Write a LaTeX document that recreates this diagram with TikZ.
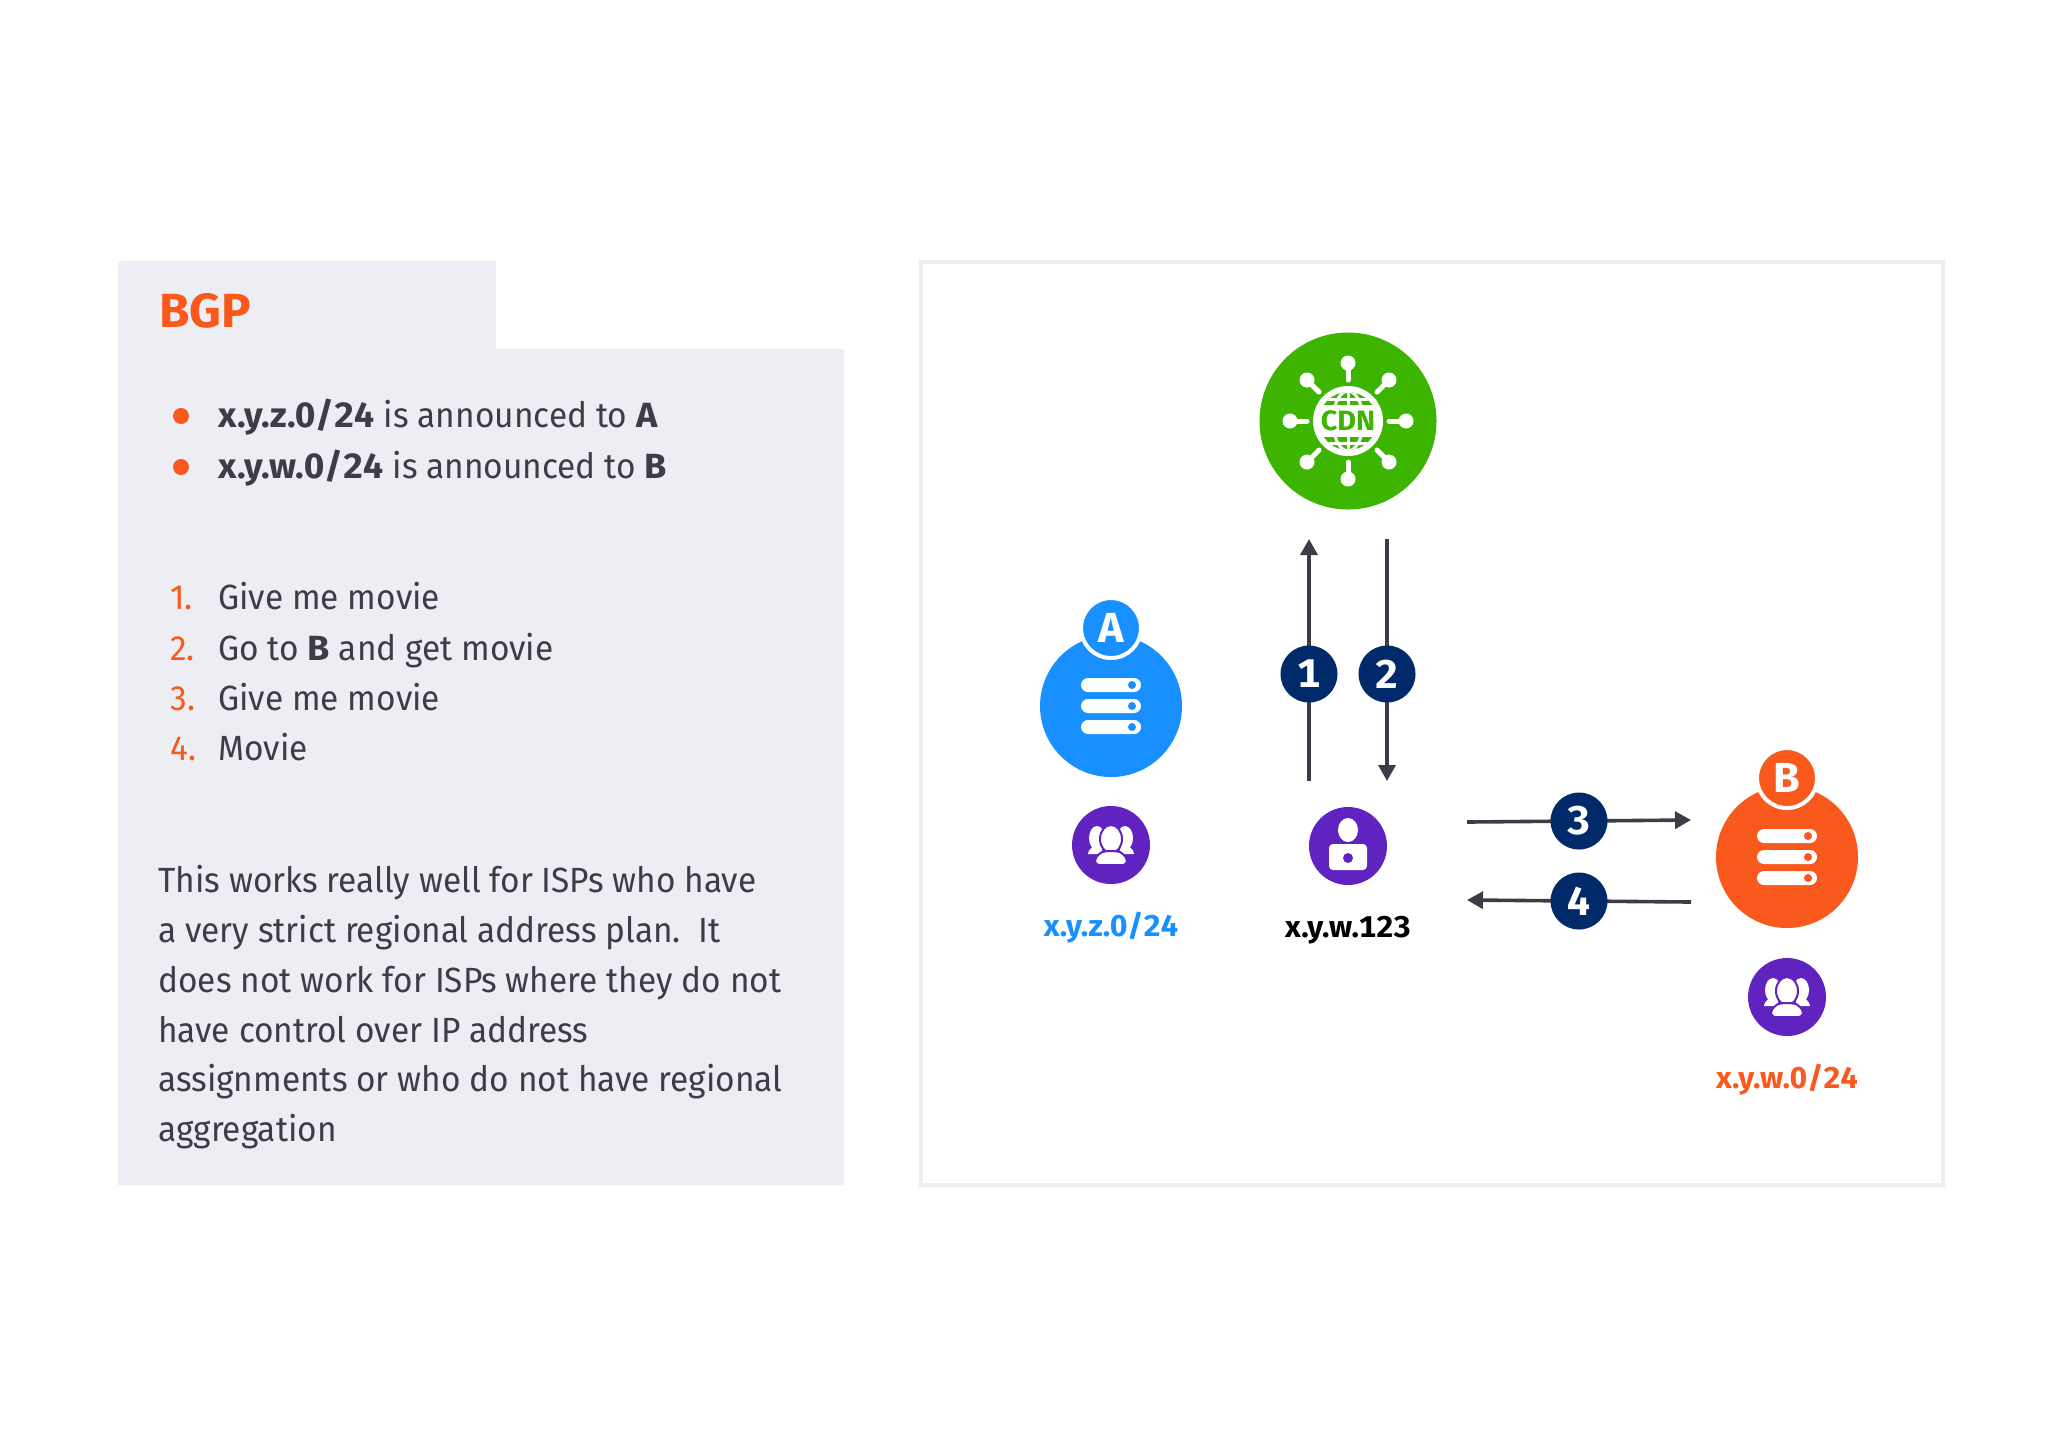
\documentclass[tikz,border=0pt]{standalone}
\usepackage{fontspec}
\setmainfont{Fira Sans}[FakeStretch=0.955,BoldFeatures={FakeStretch=1.03,Numbers=Monospaced}]
\usetikzlibrary{arrows.meta,positioning}
\definecolor{panelgray}{HTML}{EDEEF3}
\definecolor{framegray}{HTML}{EEEEF0}
\definecolor{inkgray}{HTML}{3C3D47}
\definecolor{hotorange}{HTML}{FA591D}
\definecolor{skyblue}{HTML}{1890FF}
\definecolor{cdngreen}{HTML}{3DB500}
\definecolor{navyblue}{HTML}{012A6B}
\definecolor{iconpurple}{HTML}{6023C0}
\newcommand{\pxfont}[1]{\fontsize{#1}{#1}\selectfont}
\newcommand{\rackicon}[2]{%
  \begin{scope}[shift={(#1)}]
    \fill[white,rounded corners=3.5pt] (-30,-28) rectangle (30,-14);
    \fill[white,rounded corners=3.5pt] (-30,-7) rectangle (30,7);
    \fill[white,rounded corners=3.5pt] (-30,14) rectangle (30,28);
    \fill[#2] (21,-21) circle[radius=4];
    \fill[#2] (21,0) circle[radius=4];
    \fill[#2] (21,21) circle[radius=4];
  \end{scope}}
\newcommand{\crowdicon}[1]{%
  \begin{scope}[shift={(#1)}]
    \fill[white] (-14,-7) ellipse[x radius=8, y radius=12];
    \fill[white] (-23,9) .. controls (-22,2) and (-16,0) .. (-10,0) -- (-8,9) -- cycle;
    \fill[white] (14,-7) ellipse[x radius=8, y radius=12];
    \fill[white] (23,9) .. controls (22,2) and (16,0) .. (10,0) -- (8,9) -- cycle;
    \filldraw[white,draw=iconpurple,line width=1pt] (0,-6) ellipse[x radius=11, y radius=14];
    \filldraw[white,draw=iconpurple,line width=1pt,rounded corners=2pt]
      (-16,20) .. controls (-16,11) and (-9,7) .. (-5,6) -- (5,6) .. controls (9,7) and (16,11) .. (16,20) -- cycle;
  \end{scope}}
\newcommand{\desktopicon}[1]{%
  \begin{scope}[shift={(#1)}]
    \fill[white] (0,-16) ellipse[x radius=10, y radius=12];
    \fill[white,rounded corners=2pt] (-19,-2) rectangle (19,24);
    \fill[iconpurple] (0,12) circle[radius=5];
  \end{scope}}
\newcommand{\spoke}[1]{%
  \draw[white,line width=2.5pt,line cap=round] (#1:41) -- (#1:56);
  \fill[white] (#1:58) circle[radius=7.5];}
\begin{document}
\begin{tikzpicture}[
  x=.5pt, y=-.5pt,
  node distance=18.5pt and 10pt,
  hub/.style={circle, fill=#1, minimum size=71pt, inner sep=0pt},
  tagdot/.style={circle, fill=#1, draw=white, line width=2pt, minimum size=30pt, inner sep=0pt,
                 text=white, font=\bfseries\pxfont{21}},
  seqdot/.style={circle, fill=navyblue, minimum size=28.5pt, inner sep=0pt,
                 text=white, font=\bfseries\pxfont{20}},
  hostdot/.style={circle, fill=iconpurple, minimum size=39pt, inner sep=0pt},
  addr/.style={font=\bfseries\pxfont{15}, inner sep=0pt, text height=.72em, text depth=.2em},
  body/.style={anchor=base west, inner sep=0pt, text=inkgray, font=\pxfont{17.5}},
  numeral/.style={anchor=base west, inner sep=0pt, text=hotorange, font=\pxfont{17.5}},
  arr/.style={-{Triangle[length=8pt,width=8.5pt]}, line width=1.8pt, draw=inkgray}
]
\useasboundingbox (0,0) rectangle (2048,1448);
% left panel and right frame
\fill[panelgray] (118,261) -- (496,261) -- (496,349) -- (844,349) -- (844,1185) -- (118,1185) -- cycle;
\draw[framegray,line width=2pt] (921,262) rectangle (1943,1185);
\node[anchor=base west, inner sep=0pt, text=hotorange, font=\bfseries\pxfont{24}] (title) at (159,327) {BGP};
\node[circle, fill=hotorange, minimum size=8pt, inner sep=0pt] (bulleta) at (181,416) {};
\node[circle, fill=hotorange, minimum size=8pt, inner sep=0pt] (bulletb) at (181,467) {};
\node[body] (annca) at (218,427) {\textbf{x.y.z.0/24} is announced to \textbf{A}};
\node[body] (anncb) at (218,478) {\textbf{x.y.w.0/24} is announced to \textbf{B}};
\node[numeral] (numa) at (170,609) {1.};
\node[numeral] (numb) at (170,660) {2.};
\node[numeral] (numc) at (170,710) {3.};
\node[numeral] (numd) at (170,760) {4.};
\node[body] (stepa) at (218,609) {Give me movie};
\node[body] (stepb) at (218,660) {Go to \textbf{B} and get movie};
\node[body] (stepc) at (218,710) {Give me movie};
\node[body] (stepd) at (218,760) {Movie};
\node[body, anchor=north west, align=left, font=\fontsize{17.5}{24.9}\selectfont] (remark) at (158,865)
  {This works really well for ISPs who have\\
   a very strict regional address plan.\ \ It\\
   does not work for ISPs where they do not\\
   have control over IP address\\
   assignments or who do not have regional\\
   aggregation};
% cdn
\node[hub=cdngreen, minimum size=88.5pt] (cdn) at (1348,421) {};
\begin{scope}[shift={(cdn)}]
  \spoke{0} \spoke{45} \spoke{90} \spoke{135} \spoke{180} \spoke{225} \spoke{270} \spoke{315}
  \fill[white] (0,0) circle[radius=35];
  \begin{scope}
    \clip (0,0) circle[radius=29];
    \fill[cdngreen] (-30,-30) rectangle (30,-16);
    \fill[cdngreen] (-30,16) rectangle (30,30);
    \draw[white,line width=1.5pt] (0,-30) -- (0,30);
    \draw[white,line width=1.5pt] (0,0) ellipse[x radius=15, y radius=30];
    \draw[white,line width=1.5pt] (-30,-22) -- (30,-22);
    \draw[white,line width=1.5pt] (-30,22) -- (30,22);
  \end{scope}
\end{scope}
\node[inner sep=0pt, text=cdngreen, font=\bfseries\pxfont{14}] (cdnname) at (cdn) {CDN};
% caches
\node[hub=skyblue] (cachea) at (1111,706) {};
\rackicon{cachea}{skyblue}
\node[tagdot=skyblue] (taga) at (1111,628) {A};
\node[hub=hotorange] (cacheb) at (1787,857) {};
\rackicon{cacheb}{hotorange}
\node[tagdot=hotorange] (tagb) at (1787,778) {B};
% hosts
\node[hostdot] (usersa) at (1111,845) {};
\crowdicon{usersa}
\node[hostdot] (client) at (1348,846) {};
\desktopicon{client}
\node[hostdot] (usersb) at (1787,997) {};
\crowdicon{usersb}
\node[addr, text=skyblue, below=of usersa] (addra) {x.y.z.0/24};
\node[addr, text=black, below=of client] (addrc) {x.y.w.123};
\node[addr, text=hotorange, below=of usersb] (addrb) {x.y.w.0/24};
% messages
\coordinate (reqstart) at (1309,781);
\coordinate (reqend) at (1309,539);
\coordinate (redirstart) at (1387,539);
\coordinate (redirend) at (1387,781);
\coordinate (askstart) at (1467,822);
\coordinate (askend) at (1691,820);
\coordinate (movstart) at (1691,902);
\coordinate (movend) at (1467,900);
\draw[arr] (reqstart) -- (reqend);
\draw[arr] (redirstart) -- (redirend);
\draw[arr] (askstart) -- (askend);
\draw[arr] (movstart) -- (movend);
\node[seqdot] (seqa) at (1309,674) {1};
\node[seqdot] (seqb) at (1387,674) {2};
\node[seqdot] (seqc) at (1579,821) {3};
\node[seqdot] (seqd) at (1579,901) {4};
\end{tikzpicture}
\end{document}
